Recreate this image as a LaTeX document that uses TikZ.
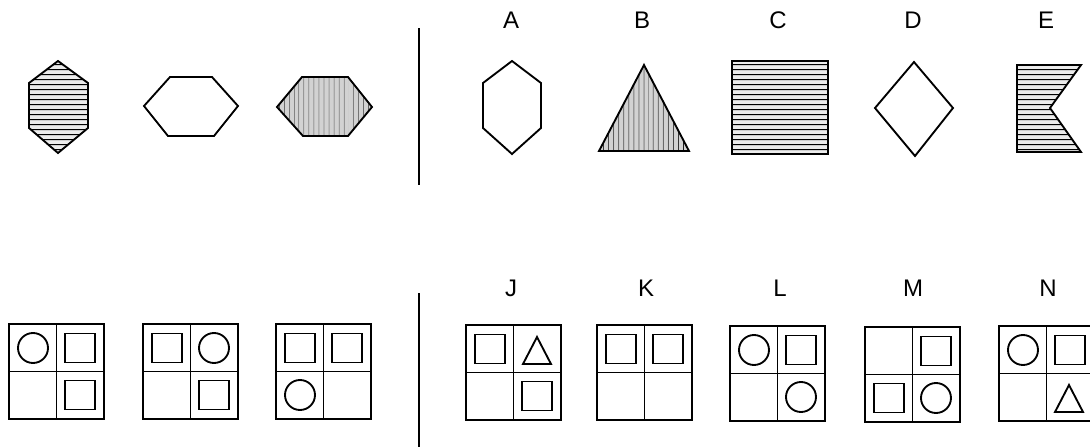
\documentclass[tikz,border=0pt]{standalone}
\usepackage{fontspec}
\setmainfont{Liberation Sans}
\usepackage{tikz}
\usetikzlibrary{patterns.meta}

\begin{document}
\begin{tikzpicture}[
  x=0.75pt, y=-0.75pt,
  outline/.style={draw=black, line width=1.4pt, line join=miter},
  hlines/.style={preaction={fill=gray!15}, preaction={pattern={Lines[angle=0, distance=4pt, line width=0.8pt]}}, outline},
  vlines/.style={preaction={fill=gray!35}, preaction={pattern={Lines[angle=90, distance=4pt, line width=0.6pt]}}, outline},
  cell/.style={draw=black, line width=1.4pt},
  sqr/.style={rectangle, draw=black, line width=1.4pt, minimum width=22.5pt, minimum height=21.75pt, inner sep=0pt, outer sep=0pt},
  rnd/.style={circle, draw=black, line width=1.4pt, minimum size=22.5pt, inner sep=0pt, outer sep=0pt},
  tri/.style={draw=black, line width=1.4pt, line join=miter},
  lbl/.style={font=\fontsize{18}{20}\selectfont, inner sep=0pt},
  sep/.style={draw=black, line width=1.1pt}
]
\useasboundingbox (0,0) rectangle (1090,447);

% Dividers
\coordinate (sepTopA) at (419,28);
\coordinate (sepTopB) at (419,185);
\coordinate (sepBotA) at (419,293);
\coordinate (sepBotB) at (419,447);
\draw[sep] (sepTopA) -- (sepTopB);
\draw[sep] (sepBotA) -- (sepBotB);

% Top row - question figures
\draw[hlines] (58,61) -- (88,83) -- (88,128) -- (58,153) -- (29,128) -- (29,83) -- cycle;
\draw[outline] (144,106) -- (170,77) -- (212,77) -- (238,106) -- (214,136) -- (168,136) -- cycle;
\draw[vlines] (277,107) -- (302,77) -- (348,77) -- (372,107) -- (348,136) -- (303,136) -- cycle;

% Top row - answer figures
\foreach \name/\px in {A/511, B/642, C/778, D/913, E/1046}
  \node[lbl] (lab\name) at (\px,20) {\name};
\draw[outline] (512,61) -- (541,83) -- (541,128) -- (512,154) -- (483,128) -- (483,83) -- cycle;
\draw[vlines] (644,65) -- (689,151) -- (599,151) -- cycle;
\draw[hlines] (732,61) rectangle (828,154);
\draw[outline] (914,62) -- (953,108) -- (915,156) -- (875,108) -- cycle;
\draw[hlines] (1017,65) -- (1081,65) -- (1050,108) -- (1081,152) -- (1017,152) -- cycle;

% Bottom row - boards
\foreach \bx/\by in {9/324, 143/324, 276/324, 466/325, 597/325, 730/326, 865/327, 999/326}{
  \draw[cell] (\bx,\by) rectangle ++(95,95);
  \draw[cell] (\bx+47.5,\by) -- ++(0,95);
  \draw[cell] (\bx,\by+47.5) -- ++(95,0);
}
\foreach \name/\px in {J/511, K/646, L/780, M/913, N/1048}
  \node[lbl] (lab\name) at (\px,288) {\name};

% Question boards
\node[rnd] (q1a) at (33,348) {};
\node[sqr] (q1b) at (80,348) {};
\node[sqr] (q1d) at (80,395) {};
\node[sqr] (q2a) at (167,348) {};
\node[rnd] (q2b) at (214,348) {};
\node[sqr] (q2d) at (214,395) {};
\node[sqr] (q3a) at (300,348) {};
\node[sqr] (q3b) at (347,348) {};
\node[rnd] (q3c) at (300,395) {};

% Answer boards
\node[sqr] (ja) at (490,349) {};
\draw[tri] (537,337) -- ++(14,27) -- ++(-28,0) -- cycle;
\node[sqr] (jd) at (537,396) {};
\node[sqr] (ka) at (621,349) {};
\node[sqr] (kb) at (668,349) {};
\node[rnd] (la) at (754,350) {};
\node[sqr] (lb) at (801,350) {};
\node[rnd] (ld) at (801,397) {};
\node[sqr] (mb) at (936,351) {};
\node[sqr] (mc) at (889,398) {};
\node[rnd] (md) at (936,398) {};
\node[rnd] (na) at (1023,350) {};
\node[sqr] (nb) at (1070,350) {};
\draw[tri] (1069,385) -- ++(14,27) -- ++(-28,0) -- cycle;

\end{tikzpicture}
\end{document}
